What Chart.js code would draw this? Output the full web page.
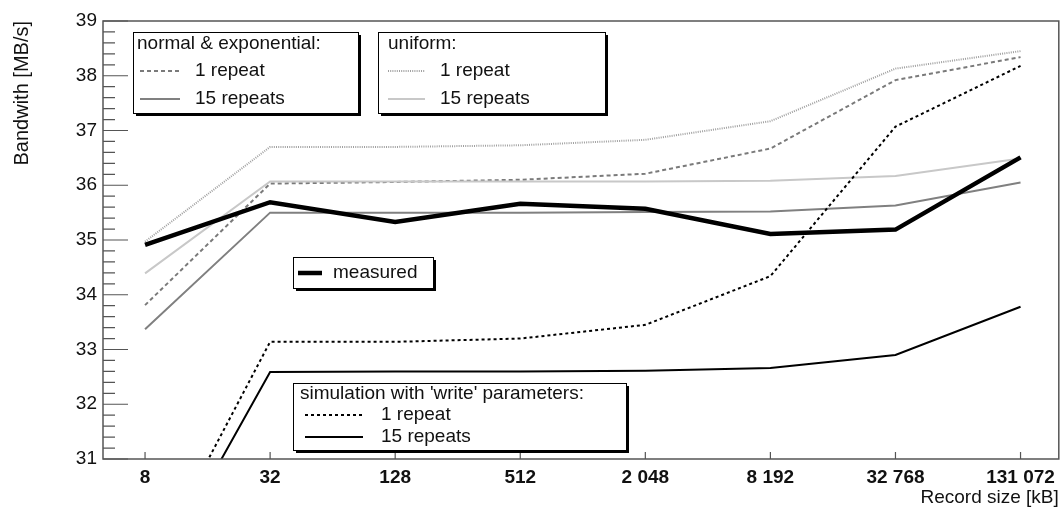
<!DOCTYPE html>
<html>
<head>
<meta charset="utf-8">
<script src="https://cdn.jsdelivr.net/npm/chart.js@4.4.1/dist/chart.umd.min.js"></script>
<style>
  html, body { margin: 0; padding: 0; background: #fff; }
  #wrap { width: 1062px; height: 510px; }
</style>
</head>
<body>
<div id="wrap"><canvas id="bw"></canvas></div>
<script>
// record sizes [kB] and their printed labels
var recordSizes = [8, 32, 128, 512, 2048, 8192, 32768, 131072];
var sizeLabels = ['8', '32', '128', '512', '2 048', '8 192', '32 768', '131 072'];

// bandwidth [MB/s]
var measured     = [34.91, 35.69, 35.33, 35.66, 35.57, 35.11, 35.19, 36.51];
var normal1      = [33.81, 36.03, 36.06, 36.10, 36.21, 36.67, 37.92, 38.34];
var normal15     = [33.37, 35.50, 35.50, 35.50, 35.51, 35.52, 35.63, 36.05];
var uniform1     = [34.97, 36.70, 36.70, 36.73, 36.83, 37.17, 38.13, 38.45];
var uniform15    = [34.39, 36.07, 36.07, 36.07, 36.07, 36.08, 36.17, 36.49];
var simWrite1    = [28.80, 33.14, 33.14, 33.20, 33.45, 34.34, 37.07, 38.18];
var simWrite15   = [28.50, 32.59, 32.60, 32.60, 32.61, 32.66, 32.90, 33.78];

var FONT = '"Liberation Sans", Arial, Helvetica, sans-serif';

function pts(arr){
    return arr.map(function(v, i){ return {x: recordSizes[i], y: v}; });
}

// line styles, also reused for the legend samples
var styles = {
    measured:  {color: '#000000', width: 4.5, dash: []},
    sim15:     {color: '#000000', width: 2,   dash: []},
    sim1:      {color: '#000000', width: 2,   dash: [3, 3]},
    uni15:     {color: '#c8c8c8', width: 2,   dash: []},
    uni1:      {color: '#a0a0a0', width: 2,   dash: [1, 1.2]},
    norm15:    {color: '#808080', width: 2,   dash: []},
    norm1:     {color: '#7a7a7a', width: 2,   dash: [4, 3]}
};

function ds(label, data, st){
    return {
        label: label,
        data: pts(data),
        borderColor: st.color,
        borderWidth: st.width,
        borderDash: st.dash,
        pointRadius: 0,
        tension: 0,
        fill: false
    };
}

// first dataset ends up on top
var datasets = [
    ds('measured', measured, styles.measured),
    ds('write 15 repeats', simWrite15, styles.sim15),
    ds('write 1 repeat', simWrite1, styles.sim1),
    ds('uniform 15 repeats', uniform15, styles.uni15),
    ds('uniform 1 repeat', uniform1, styles.uni1),
    ds('normal 15 repeats', normal15, styles.norm15),
    ds('normal 1 repeat', normal1, styles.norm1)
];

/****************** frame + inward ticks **************/
var frameTicks = {
    id: 'frameTicks',
    afterDatasetsDraw: function(chart){
        var ctx = chart.ctx, a = chart.chartArea;
        var ys = chart.scales.y, xs = chart.scales.x;
        ctx.save();
        ctx.strokeStyle = '#555';
        ctx.lineWidth = 1.5;
        ctx.strokeRect(a.left, a.top, a.right - a.left, a.bottom - a.top);
        ctx.lineWidth = 1.2;
        ctx.beginPath();
        ys.ticks.forEach(function(t){
            var y = ys.getPixelForValue(t.value);
            var major = Math.abs(t.value - Math.round(t.value)) < 1e-6;
            ctx.moveTo(a.left, y);
            ctx.lineTo(a.left + (major ? 25 : 12), y);
        });
        xs.ticks.forEach(function(t){
            var x = xs.getPixelForValue(t.value);
            ctx.moveTo(x, a.bottom);
            ctx.lineTo(x, a.bottom - 7);
        });
        ctx.stroke();
        ctx.restore();
    }
};

/****************** ROOT style legend boxes **************/
function drawBox(ctx, x, y, w, h){
    ctx.fillStyle = '#000';
    ctx.fillRect(x + 3, y + 3, w, h);
    ctx.fillStyle = '#fff';
    ctx.fillRect(x, y, w, h);
    ctx.strokeStyle = '#000';
    ctx.lineWidth = 1;
    ctx.strokeRect(x + 0.5, y + 0.5, w, h);
}
function sample(ctx, st, x1, x2, y){
    ctx.save();
    ctx.strokeStyle = st.color;
    ctx.lineWidth = st.width;
    ctx.setLineDash(st.dash);
    ctx.beginPath();
    ctx.moveTo(x1, y);
    ctx.lineTo(x2, y);
    ctx.stroke();
    ctx.restore();
}
function txt(ctx, s, x, y){
    ctx.fillStyle = '#111';
    ctx.fillText(s, x, y);
}

var legendBoxes = {
    id: 'legendBoxes',
    afterDraw: function(chart){
        var ctx = chart.ctx;
        ctx.save();
        ctx.font = '19px ' + FONT;
        ctx.textBaseline = 'middle';
        ctx.textAlign = 'left';

        drawBox(ctx, 133, 32, 225, 81);
        txt(ctx, 'normal & exponential:', 137, 44);
        sample(ctx, styles.norm1, 140, 180, 71);
        txt(ctx, '1 repeat', 195, 71);
        sample(ctx, styles.norm15, 140, 180, 99);
        txt(ctx, '15 repeats', 195, 99);

        drawBox(ctx, 378, 32, 227, 81);
        txt(ctx, 'uniform:', 388, 44);
        sample(ctx, styles.uni1, 388, 425, 71);
        txt(ctx, '1 repeat', 440, 71);
        sample(ctx, styles.uni15, 388, 425, 99);
        txt(ctx, '15 repeats', 440, 99);

        drawBox(ctx, 293, 257, 140, 31);
        sample(ctx, styles.measured, 298, 322, 273);
        txt(ctx, 'measured', 333, 273);

        drawBox(ctx, 293, 383, 333, 67);
        txt(ctx, "simulation with 'write' parameters:", 300, 394);
        sample(ctx, styles.sim1, 305, 363, 415);
        txt(ctx, '1 repeat', 381, 415);
        sample(ctx, styles.sim15, 305, 363, 437);
        txt(ctx, '15 repeats', 381, 437);

        ctx.restore();
    }
};

var ctx = document.getElementById('bw').getContext('2d');
var bwChart = new Chart(ctx, {
    type: 'line',
    data: { datasets: datasets },
    options: {
        responsive: true,
        maintainAspectRatio: false,
        animation: false,
        events: [],
        layout: { padding: { top: 21, right: 3, left: 0, bottom: 0 } },
        plugins: {
            legend: { display: false },
            tooltip: { enabled: false }
        },
        scales: {
            x: {
                type: 'logarithmic',
                min: 5.02,
                max: 200300,
                afterBuildTicks: function(scale){
                    scale.ticks = recordSizes.map(function(v){ return {value: v}; });
                },
                afterFit: function(scale){ scale.height = 51; },
                grid: { display: false, drawTicks: false },
                border: { display: false },
                ticks: {
                    autoSkip: false,
                    maxRotation: 0,
                    padding: 7,
                    color: '#111',
                    font: { family: FONT, size: 19, weight: 'bold' },
                    callback: function(v, i){ return sizeLabels[i]; }
                },
                title: {
                    display: true,
                    text: 'Record size [kB]',
                    align: 'end',
                    color: '#111',
                    padding: { top: 0, bottom: 1 },
                    font: { family: FONT, size: 19 }
                }
            },
            y: {
                min: 31,
                max: 39,
                afterFit: function(scale){ scale.width = 103; },
                grid: { display: false, drawTicks: false },
                border: { display: false },
                ticks: {
                    stepSize: 0.2,
                    autoSkip: false,
                    padding: 6,
                    color: '#111',
                    font: { family: FONT, size: 19 },
                    callback: function(v){
                        return Math.abs(v - Math.round(v)) < 1e-6 ? String(Math.round(v)) : '';
                    }
                },
                title: {
                    display: true,
                    text: 'Bandwith [MB/s]',
                    align: 'end',
                    color: '#111',
                    padding: { top: 10, bottom: 0 },
                    font: { family: FONT, size: 20 }
                }
            }
        }
    },
    plugins: [frameTicks, legendBoxes]
});
</script>
</body>
</html>
